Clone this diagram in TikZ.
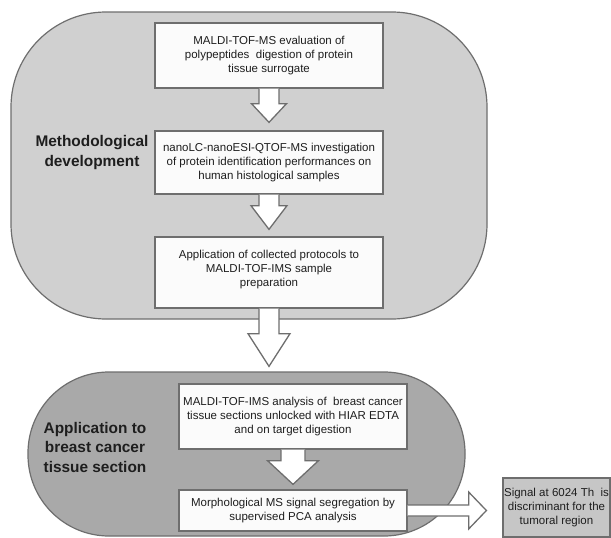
\documentclass[tikz,border=0pt]{standalone}
\usepackage{fontspec}
\setmainfont{Liberation Sans}
\usetikzlibrary{calc}
\definecolor{lightpanel}{HTML}{D0D0D0}
\definecolor{darkpanel}{HTML}{A9A9A9}
\definecolor{edge}{HTML}{6E6E6E}
\definecolor{boxfill}{HTML}{FBFBFB}
\definecolor{sigfill}{HTML}{C6C6C6}
\definecolor{ink}{HTML}{1E1E1E}
\newcommand{\vblockarrow}[6]{%
  \filldraw[blockarrow] ($(#1.south)+(-#3,0)$) -- ($(#1.south)+(-#3,#5)$) -- ($(#1.south)+(-#4,#5)$)
    -- ($(#1.south |- #2.north)+(0,-#6)$)
    -- ($(#1.south)+(#4,#5)$) -- ($(#1.south)+(#3,#5)$) -- ($(#1.south)+(#3,0)$);}
\begin{document}
\begin{tikzpicture}[x=1pt,y=-1pt,
  panel/.style={draw=edge, line width=1.2pt},
  stepbox/.style={draw=edge, fill=boxfill, line width=1.3pt, inner sep=0pt, align=center,
    font=\fontsize{11.5}{14.3}\selectfont, text=ink, minimum width=228pt},
  blockarrow/.style={draw=edge, fill=white, line width=1.3pt, line join=miter},
  lbl/.style={font=\fontsize{15.4}{20}\selectfont\bfseries, align=center, text=ink}]
\useasboundingbox (0,0) rectangle (611,538);
\fill[white] (0,0) rectangle (611,538);
% panels
\draw[panel, fill=lightpanel, rounded corners=95pt] (11,12) rectangle (487,319);
\draw[panel, fill=darkpanel, rounded corners=81pt] (28,372) rectangle (465,536);
% labels
\node[lbl] (meth) at (92,153) {Methodological\\development};
\node[lbl, font=\fontsize{15.4}{19.5}\selectfont\bfseries] (appl) at (95,447) {Application to\\breast cancer\\tissue section};
% step boxes
\node[stepbox, minimum height=65pt] (b1) at (269,55.5)
  {MALDI-TOF-MS evaluation of\\polypeptides\ \ digestion of protein\\tissue surrogate};
\node[stepbox, minimum height=63pt] (b2) at (269,162.5)
  {nanoLC-nanoESI-QTOF-MS investigation\\of protein identification performances on\\human histological samples};
\node[stepbox, minimum height=71pt, text depth=8pt] (b3) at (269,272.5)
  {Application of collected protocols to\\MALDI-TOF-IMS sample\\preparation};
\node[stepbox, minimum height=65pt] (b4) at (293,416.5)
  {MALDI-TOF-IMS analysis of\ \ breast cancer\\tissue sections unlocked with HIAR EDTA\\and on target digestion};
\node[stepbox, minimum height=41pt] (b5) at (293,510.5)
  {Morphological MS signal segregation by\\supervised PCA analysis};
\node[draw=edge, fill=sigfill, line width=1.2pt, inner sep=0pt, align=center,
  font=\fontsize{11.5}{14.3}\selectfont, text=ink, minimum width=107pt, minimum height=59pt]
  (sig) at (556.5,507.5) {Signal at 6024 Th\ \ is\\discriminant for the\\tumoral region};
% block arrows
\vblockarrow{b1}{b2}{10}{17.5}{15}{8}
\vblockarrow{b2}{b3}{10}{18}{11}{7}
\vblockarrow{b3}{b4}{10}{21}{25}{17}
\vblockarrow{b4}{b5}{12}{25.5}{11}{5}
\filldraw[blockarrow] ($(b5.east)+(0,-5.5)$) -- ($(b5.east)+(61,-5.5)$) -- ($(b5.east)+(61,-18.5)$)
  -- ($(b5.east -| sig.west)+(-16,0)$)
  -- ($(b5.east)+(61,18.5)$) -- ($(b5.east)+(61,5.5)$) -- ($(b5.east)+(0,5.5)$);
\end{tikzpicture}
\end{document}
